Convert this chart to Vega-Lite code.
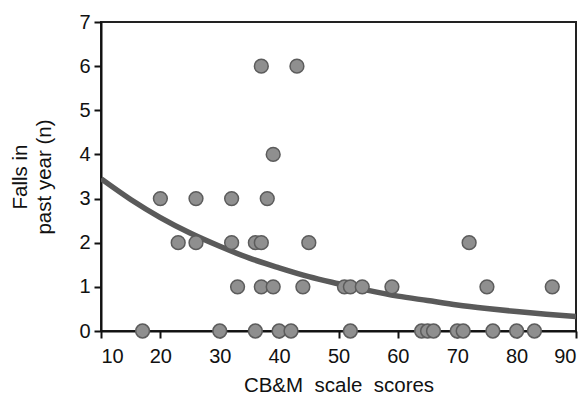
{
  "$schema": "https://vega.github.io/schema/vega-lite/v6.json",
  "width": 475,
  "height": 309,
  "autosize": "none",
  "padding": {"left": 101, "top": 22, "right": 12, "bottom": 65},
  "background": "white",
  "config": {
    "view": {"stroke": "#222222", "strokeWidth": 2},
    "font": "Liberation Sans",
    "axis": {
      "domainColor": "#111111",
      "domainWidth": 2,
      "tickColor": "#111111",
      "tickWidth": 2,
      "tickSize": 7,
      "grid": false,
      "labelFont": "Liberation Sans",
      "labelFontSize": 20,
      "labelColor": "#111111",
      "titleFont": "Liberation Sans",
      "titleFontSize": 20.5,
      "titleFontWeight": "normal",
      "titleColor": "#111111",
      "titleLineHeight": 24
    }
  },
  "datasets": {
    "pts": [
      {"score": 37, "falls": 6}, {"score": 43, "falls": 6},
      {"score": 39, "falls": 4},
      {"score": 20, "falls": 3}, {"score": 26, "falls": 3}, {"score": 32, "falls": 3}, {"score": 38, "falls": 3},
      {"score": 23, "falls": 2}, {"score": 26, "falls": 2}, {"score": 32, "falls": 2}, {"score": 36, "falls": 2}, {"score": 37, "falls": 2}, {"score": 45, "falls": 2}, {"score": 72, "falls": 2},
      {"score": 33, "falls": 1}, {"score": 37, "falls": 1}, {"score": 39, "falls": 1}, {"score": 44, "falls": 1}, {"score": 51, "falls": 1}, {"score": 52, "falls": 1}, {"score": 54, "falls": 1}, {"score": 59, "falls": 1}, {"score": 75, "falls": 1}, {"score": 86, "falls": 1},
      {"score": 17, "falls": 0}, {"score": 30, "falls": 0}, {"score": 36, "falls": 0}, {"score": 40, "falls": 0}, {"score": 42, "falls": 0}, {"score": 52, "falls": 0}, {"score": 64, "falls": 0}, {"score": 65, "falls": 0}, {"score": 66, "falls": 0}, {"score": 70, "falls": 0}, {"score": 71, "falls": 0}, {"score": 76, "falls": 0}, {"score": 80, "falls": 0}, {"score": 83, "falls": 0}
    ],
    "fit": [
      {"score": 10, "falls": 3.45}, {"score": 15, "falls": 2.98}, {"score": 20, "falls": 2.57},
      {"score": 25, "falls": 2.22}, {"score": 30, "falls": 1.92}, {"score": 35, "falls": 1.65},
      {"score": 40, "falls": 1.43}, {"score": 45, "falls": 1.23}, {"score": 50, "falls": 1.07},
      {"score": 55, "falls": 0.92}, {"score": 60, "falls": 0.79}, {"score": 65, "falls": 0.69},
      {"score": 70, "falls": 0.59}, {"score": 75, "falls": 0.51}, {"score": 80, "falls": 0.44},
      {"score": 85, "falls": 0.38}, {"score": 90, "falls": 0.33}
    ]
  },
  "layer": [
    {
      "data": {"name": "fit"},
      "mark": {"type": "line", "color": "#5a5a5a", "strokeWidth": 5.5, "interpolate": "monotone", "clip": true},
      "encoding": {
        "x": {"field": "score", "type": "quantitative", "scale": {"domain": [10, 90], "nice": false},
          "axis": {"values": [10, 20, 30, 40, 50, 60, 70, 80, 90], "title": "CB&M\u00a0\u00a0scale\u00a0\u00a0scores", "labelPadding": 8, "titlePadding": 9}},
        "y": {"field": "falls", "type": "quantitative", "scale": {"domain": [0, 7], "nice": false},
          "axis": {"values": [0, 1, 2, 3, 4, 5, 6, 7], "title": ["Falls in", "past year (n)"], "labelPadding": 4, "titlePadding": 24}}
      }
    },
    {
      "data": {"name": "pts"},
      "mark": {"type": "circle", "size": 190, "fill": "#8f8f8f", "fillOpacity": 1, "stroke": "#5c5c5c", "strokeWidth": 1.5, "clip": false},
      "encoding": {
        "x": {"field": "score", "type": "quantitative"},
        "y": {"field": "falls", "type": "quantitative"}
      }
    }
  ]
}
